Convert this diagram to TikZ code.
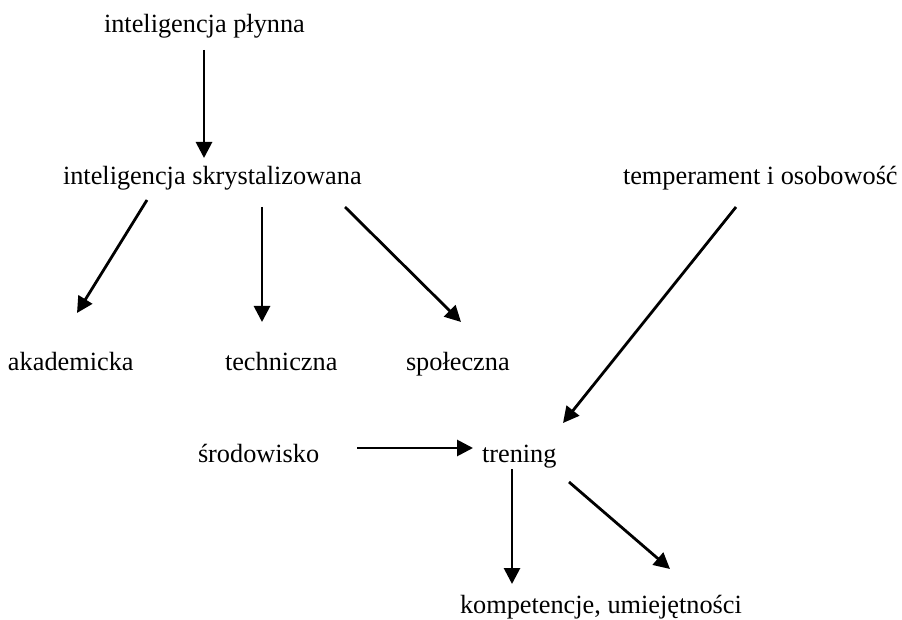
\documentclass[tikz,border=0pt]{standalone}
\usepackage{fontspec}
\setmainfont{Liberation Serif}
\usetikzlibrary{arrows.meta}
\tikzset{
  lbl/.style={inner sep=0pt, outer sep=0pt, anchor=base west,
              font=\fontsize{26.3}{30}\selectfont},
  arr/.style={line width=2.8pt, -{Triangle[length=16pt,width=16pt]}}
}
\begin{document}
\begin{tikzpicture}[x=1pt,y=-1pt]
\useasboundingbox (0,0) rectangle (902,620);

% labels
\node[lbl] (pl)   at (104,33)  {inteligencja płynna};
\node[lbl] (skr)  at (63,185)  {inteligencja skrystalizowana};
\node[lbl] (temp) at (623,185) {temperament i osobowość};
\node[lbl] (aka)  at (8,370)   {akademicka};
\node[lbl] (tech) at (225,370) {techniczna};
\node[lbl] (spol) at (406,370) {społeczna};
\node[lbl] (sro)  at (198,462) {środowisko};
\node[lbl] (tren) at (482,462) {trening};
\node[lbl] (komp) at (460,613) {kompetencje, umiejętności};

% connectors
\draw[arr] ([shift={(100,17)}]pl.base west)   -- ([shift={(141,-27)}]skr.base west);
\draw[arr] ([shift={(84,15)}]skr.base west)   -- ([shift={(69,-57)}]aka.base west);
\draw[arr] ([shift={(199,22)}]skr.base west)  -- ([shift={(37,-48)}]tech.base west);
\draw[arr] ([shift={(282,22)}]skr.base west)  -- ([shift={(55,-48)}]spol.base west);
\draw[arr] ([shift={(113,22)}]temp.base west) -- ([shift={(81,-39)}]tren.base west);
\draw[arr] ([shift={(159,-14)}]sro.base west) -- ([shift={(-9,-14)}]tren.base west);
\draw[arr] ([shift={(30,7)}]tren.base west)   -- ([shift={(52,-29)}]komp.base west);
\draw[arr] ([shift={(87,20)}]tren.base west)  -- ([shift={(210,-44)}]komp.base west);
\end{tikzpicture}
\end{document}
